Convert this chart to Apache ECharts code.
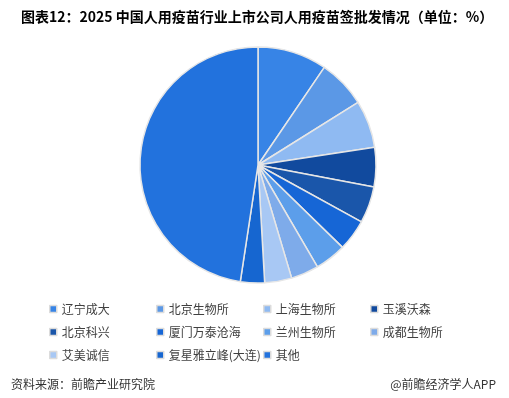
<!DOCTYPE html>
<html><head><meta charset="utf-8">
<script src="https://cdn.jsdelivr.net/npm/echarts@6/dist/echarts.min.js"></script>
<style>html,body{margin:0;padding:0;background:#fff}#c{width:509px;height:398px}</style>
</head><body><div id="c"></div>
<script>
var categories = ['辽宁成大','北京生物所','上海生物所','玉溪沃森','北京科兴','厦门万泰沧海','兰州生物所','成都生物所','艾美诚信','复星雅立峰(大连)','其他'];
var values = [9.5, 6.6, 6.5, 5.4, 5.0, 4.3, 4.3, 3.8, 3.7, 3.3, 47.6];
var colors = ['#3784e6','#5b98e6','#8fbaf2','#114a9e','#1a56aa','#1666d6','#5c9eea','#7eabea','#a8c8f4','#1666d0','#2272dd'];
var titleText = '图表12：2025 中国人用疫苗行业上市公司人用疫苗签批发情况（单位：%）';
var sourceText = '资料来源：前瞻产业研究院';
var brandText = '@前瞻经济学人APP';

var colLeft = [44, 151, 258, 365];
var legends = colLeft.map(function(x, c){
  var d = [];
  for (var i = c; i < categories.length; i += 4) d.push(categories[i]);
  return {
    orient: 'vertical', left: x, top: 297,
    itemWidth: 7, itemHeight: 7, itemGap: 9,
    icon: 'rect',
    itemStyle: {borderColor: '#dcdcdc', borderWidth: 1.5},
    textStyle: {fontSize: 12, lineHeight: 14, color: '#404040', fontFamily: 'Noto Sans CJK SC'},
    data: d
  };
});

var chart = echarts.init(document.getElementById('c'));
chart.setOption({
  animation: false,
  color: colors,
  title: [
    {text: titleText, left: 16, top: 5, textStyle: {fontSize: 14, fontWeight: 'bold', color: '#000', fontFamily: 'Noto Sans CJK SC'}},
    {text: sourceText, left: 6, top: 373, textStyle: {fontSize: 12, fontWeight: 'normal', color: '#333', fontFamily: 'Noto Sans CJK SC'}},
    {text: brandText, right: 8, top: 373, textStyle: {fontSize: 12, fontWeight: 'normal', color: '#333', fontFamily: 'Noto Sans CJK SC'}}
  ],
  legend: legends,
  series: [{
    type: 'pie',
    center: [258, 165],
    radius: [0, 118],
    startAngle: 90,
    clockwise: true,
    label: {show: false},
    labelLine: {show: false},
    itemStyle: {borderColor: '#e6e6e6', borderWidth: 1.5},
    data: categories.map(function(n, i){ return {name: n, value: values[i]}; })
  }]
});
</script></body></html>
